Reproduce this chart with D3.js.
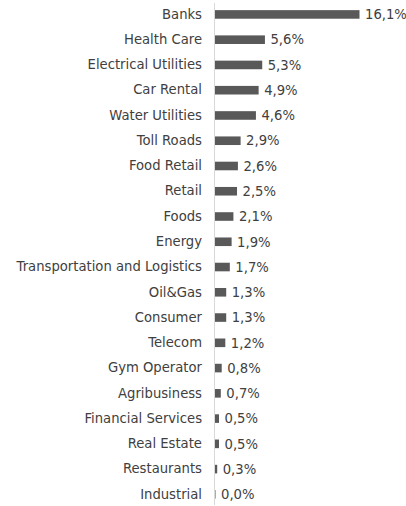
<!DOCTYPE html>
<html>
<head>
<meta charset="utf-8">
<script src="https://cdn.jsdelivr.net/npm/d3@7"></script>
<style>
  body { margin: 0; background: #fff; }
  text { font-family: "DejaVu Sans", sans-serif; fill: #404040; }
</style>
</head>
<body>
<div id="chart"></div>
<script>
///// Data

let sectors = ["Banks", "Health Care", "Electrical Utilities", "Car Rental", "Water Utilities",
    "Toll Roads", "Food Retail", "Retail", "Foods", "Energy", "Transportation and Logistics",
    "Oil&Gas", "Consumer", "Telecom", "Gym Operator", "Agribusiness", "Financial Services",
    "Real Estate", "Restaurants", "Industrial"];

let weights = [16.1, 5.6, 5.3, 4.9, 4.6, 2.9, 2.6, 2.5, 2.1, 1.9, 1.7,
    1.3, 1.3, 1.2, 0.8, 0.7, 0.5, 0.5, 0.3, 0.04];

///// D3

let width = 406,
    height = 506,
    left = 214;

let svg = d3.select("#chart")
    .append("svg")
    .attr("width", width)
    .attr("height", height);

// scales
let x = d3.scaleLinear().domain([0, 16.1]).range([left, left + 145]);
let y = d3.scaleBand().domain(sectors).range([1.8, 507]).paddingInner(0.66).paddingOuter(0.33);

let fmt = v => d3.format(".1f")(v).replace(".", ",") + "%";

// bars
svg.selectAll(".bar")
    .data(sectors)
    .enter().append("rect")
    .attr("class", "bar")
    .attr("x", x(0) + 0.5)
    .attr("y", d => y(d))
    .attr("width", (d, i) => Math.max(1, x(weights[i]) - x(0)))
    .attr("height", y.bandwidth())
    .attr("fill", "#595959");

// value labels
svg.selectAll(".val")
    .data(sectors)
    .enter().append("text")
    .attr("class", "val")
    .attr("x", (d, i) => Math.max(x(weights[i]), x(0) + 1) + 6)
    .attr("y", d => y(d) + y.bandwidth() / 2)
    .attr("dy", "0.36em")
    .style("font-size", "13.2px")
    .text((d, i) => fmt(weights[i]));

// category axis
let axis = svg.append("g")
    .attr("transform", "translate(" + left + ",0)")
    .call(d3.axisLeft(y).tickSize(0).tickPadding(12));

axis.select(".domain").attr("stroke", "#d9d9d9").attr("d", "M0.5,3V505");
axis.selectAll("text")
    .style("font-size", "13.2px")
    .style("font-family", "'DejaVu Sans', sans-serif")
    .attr("fill", "#404040");
</script>
</body>
</html>
